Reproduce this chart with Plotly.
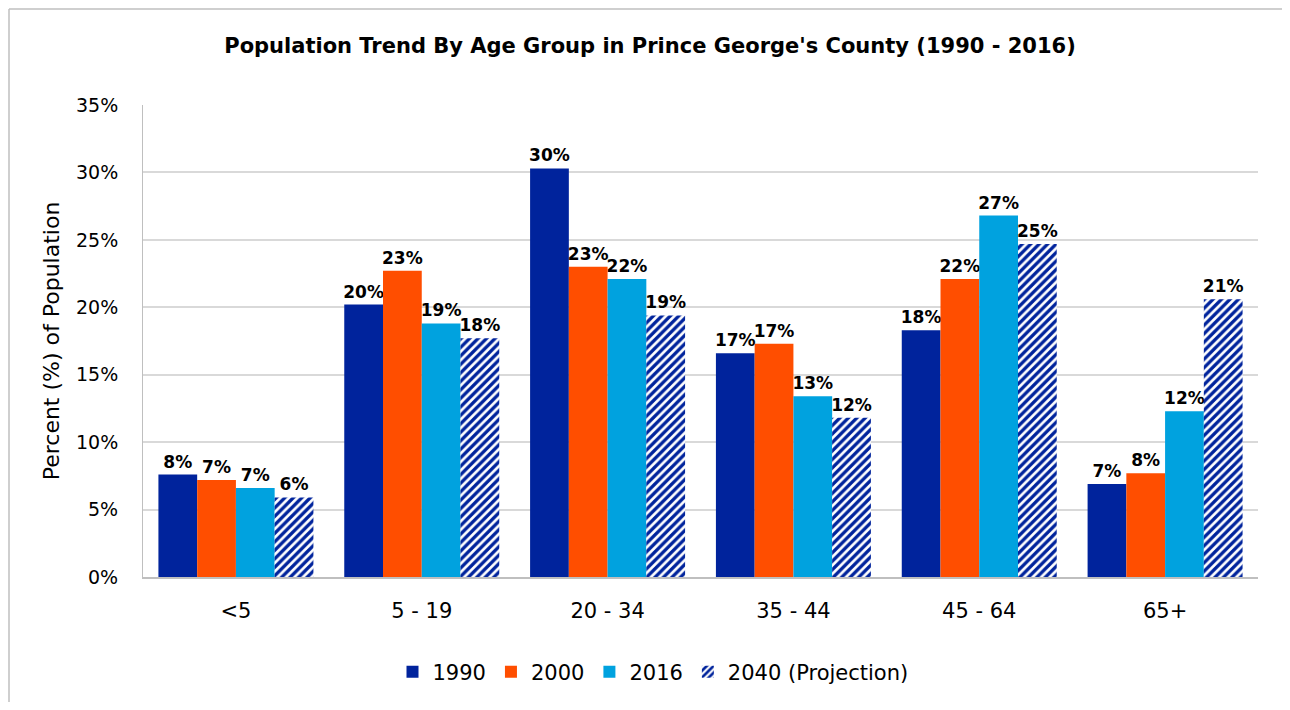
import plotly.graph_objects as go

age_groups = ["<5", "5 - 19", "20 - 34", "35 - 44", "45 - 64", "65+"]
pct_1990 = [7.6, 20.2, 30.3, 16.6, 18.3, 6.9]
pct_2000 = [7.2, 22.7, 23.0, 17.3, 22.1, 7.7]
pct_2016 = [6.6, 18.8, 22.1, 13.4, 26.8, 12.3]
pct_2040 = [5.9, 17.7, 19.4, 11.8, 24.7, 20.6]

series = [
    ("1990", pct_1990, "#00239C", None),
    ("2000", pct_2000, "#FF4E00", None),
    ("2016", pct_2016, "#00A2DF", None),
    ("2040 (Projection)", pct_2040, "#FFFFFF", "/"),
]

FONT = "DejaVu Sans"

# the page body has an 8px margin, so figure px = screen px - 8
OFF = 8
W, H = 1290 - 2 * OFF, 710 - 2 * OFF
# plot area on screen: x 143..1258, y 105..577
L, R, T, B = 143 - OFF, 1258 - OFF, 105 - OFF, 577 - OFF
PW, PH = R - L, B - T

fig = go.Figure()
for name, vals, color, shape in series:
    marker = dict(color=color, line=dict(width=0))
    if shape:
        marker["pattern"] = dict(shape=shape, fgcolor="#00239C", bgcolor="#FFFFFF",
                                 fgopacity=1, size=6, solidity=0.55)
    fig.add_trace(go.Bar(
        x=age_groups, y=vals, name=name, marker=marker,
        text=[f"{round(v):d}%" for v in vals], textposition="outside",
        constraintext="none",
        textfont=dict(family=FONT, size=17, color="#000000", weight="bold"),
        cliponaxis=False,
    ))

# chart frame: only the top and left edges are visible in the window
frame_x = (1 - L) / PW
frame_y = (B - 1) / PH
frame = [
    dict(type="line", xref="paper", yref="paper", x0=frame_x, x1=(W - L) / PW,
         y0=frame_y, y1=frame_y, line=dict(color="#BFBFBF", width=1.5), layer="below"),
    dict(type="line", xref="paper", yref="paper", x0=frame_x, x1=frame_x,
         y0=(B - H) / PH, y1=frame_y, line=dict(color="#BFBFBF", width=1.5), layer="below"),
]

fig.update_layout(
    width=W, height=H,
    paper_bgcolor="white", plot_bgcolor="white",
    margin=dict(l=L, r=W - R, t=T, b=H - B, autoexpand=False),
    barmode="group", bargap=0.166, bargroupgap=0,
    title=dict(text="<b>Population Trend By Age Group in Prince George's County (1990 - 2016)</b>",
               x=(650 - OFF) / W, xref="container", xanchor="center",
               y=1 - (46 - OFF) / H, yanchor="middle",
               font=dict(family=FONT, size=21, color="#000000")),
    legend=dict(orientation="h", x=(653 - OFF - L) / PW, xanchor="center",
                y=(B - (672 - OFF)) / PH, yanchor="middle",
                font=dict(family=FONT, size=21, color="#000000"),
                traceorder="normal"),
    font=dict(family=FONT, color="#000000"),
    shapes=frame,
)

fig.update_xaxes(showgrid=False, showline=True, linecolor="#BFBFBF", linewidth=1.5,
                 ticks="", ticklabelstandoff=14,
                 tickfont=dict(family=FONT, size=21, color="#000000"))
fig.update_yaxes(range=[0, 35], dtick=5, ticksuffix="%", showgrid=True,
                 gridcolor="#D9D9D9", gridwidth=1.5, zeroline=False,
                 showline=True, linecolor="#BFBFBF", linewidth=1,
                 ticklabelstandoff=20,
                 tickfont=dict(family=FONT, size=19, color="#000000"),
                 title=dict(text="Percent (%) of Population", standoff=10,
                            font=dict(family=FONT, size=22, color="#000000")))

fig.write_html("out.html")
